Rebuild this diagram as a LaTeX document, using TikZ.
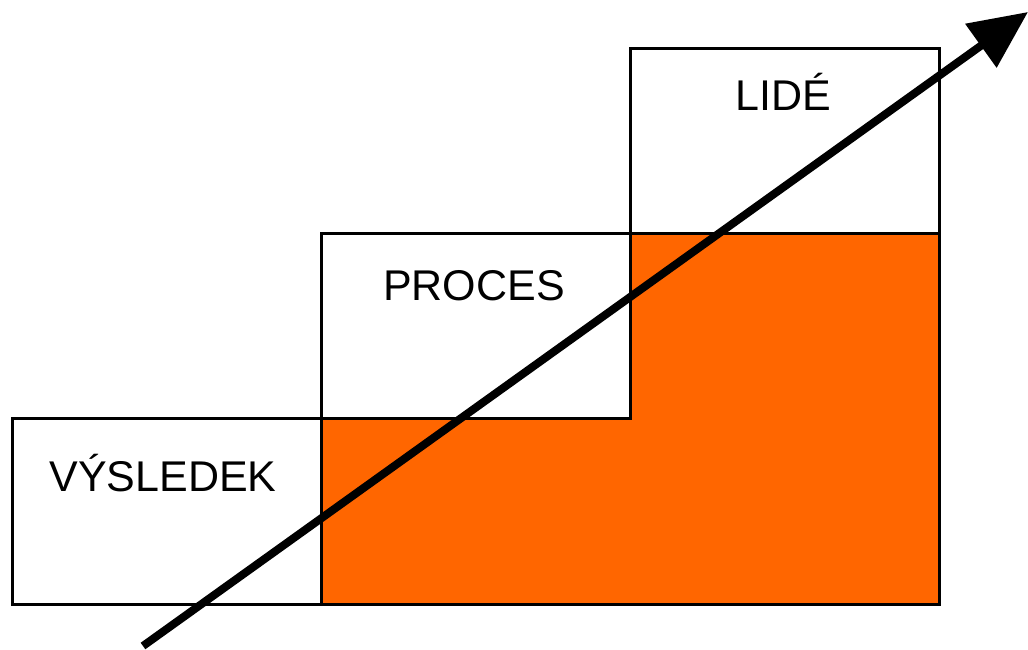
\documentclass[tikz,border=0pt]{standalone}
\usepackage{fontspec}
\setmainfont{Liberation Sans}
\usetikzlibrary{arrows.meta}
\definecolor{stepfill}{HTML}{FF6600}
\tikzset{
  stepbox/.style={draw=black, line width=3pt},
  steplabel/.style={anchor=base, inner sep=0pt, font=\fontsize{43}{50}\selectfont},
  growth/.style={line width=8pt, -{Triangle[length=58pt,width=52pt]}}
}
\begin{document}
\begin{tikzpicture}[x=1pt,y=-1pt]
\useasboundingbox (0,0) rectangle (1028,650);
% orange L-shaped fill
\filldraw[fill=stepfill, draw=black, line width=3pt]
  (321,604) -- (321,418) -- (630,418) -- (630,233) -- (939,233) -- (939,604) -- cycle;
% boxes
\draw[stepbox] (12,418) rectangle (321,604);
\draw[stepbox] (321,233) rectangle (630,418);
\draw[stepbox] (630,49) rectangle (939,233);
% labels
\node[steplabel] (vysledek) at (163,491) {VÝSLEDEK};
\node[steplabel] (proces) at (474,300) {PROCES};
\node[steplabel] (lide) at (783,111) {LIDÉ};
% arrow
\coordinate (start) at (143,646);
\coordinate (tip) at (1028,12);
\draw[growth] (start) -- (tip);
\end{tikzpicture}
\end{document}
